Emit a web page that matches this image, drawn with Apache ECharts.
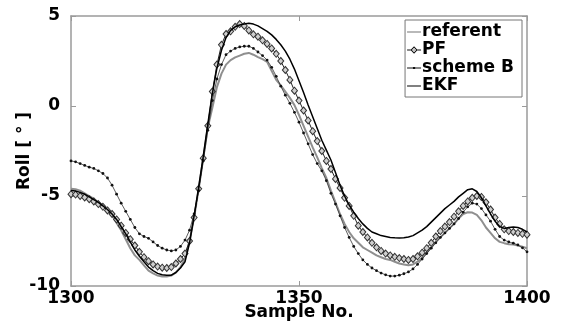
<!DOCTYPE html>
<html>
<head>
<meta charset="utf-8">
<script src="https://cdn.jsdelivr.net/npm/echarts@6/dist/echarts.min.js"></script>
<style>html,body{margin:0;padding:0;background:#fff}#c{width:563px;height:325px}</style>
</head>
<body>
<div id="c"></div>
<script>
const startSample = 1300;
const xTicks = [1300, 1350, 1400];
const yTicks = [-10, -5, 0, 5];
const seriesNames = ['referent', 'PF', 'scheme B', 'EKF'];

const referent = [
-4.60,-4.62,-4.70,-4.85,-5.00,-5.15,-5.35,-5.55,-5.75,-6.05,
-6.50,-6.90,-7.40,-7.90,-8.30,-8.55,-8.85,-9.15,-9.30,-9.42,
-9.47,-9.47,-9.42,-9.25,-8.95,-8.45,-7.50,-6.20,-4.60,-2.90,
-1.20,-0.10,1.05,1.80,2.30,2.55,2.70,2.80,2.90,2.95,
2.85,2.72,2.60,2.45,1.95,1.45,1.15,0.80,0.45,0.05,
-0.50,-1.10,-1.70,-2.30,-2.85,-3.45,-4.00,-4.70,-5.35,-6.00,
-6.55,-7.00,-7.35,-7.60,-7.85,-8.00,-8.15,-8.30,-8.40,-8.50,
-8.55,-8.65,-8.75,-8.80,-8.85,-8.80,-8.65,-8.45,-8.15,-7.85,
-7.55,-7.30,-7.05,-6.80,-6.55,-6.25,-6.00,-5.90,-5.92,-6.05,
-6.35,-6.75,-7.05,-7.35,-7.55,-7.62,-7.68,-7.70,-7.75,-7.82,
-7.90];

const pf = [
-4.90,-4.92,-5.00,-5.08,-5.18,-5.30,-5.45,-5.60,-5.80,-6.00,
-6.30,-6.65,-7.05,-7.40,-7.75,-8.10,-8.40,-8.62,-8.80,-8.92,
-8.98,-9.00,-8.95,-8.75,-8.50,-8.20,-7.50,-6.20,-4.60,-2.90,
-1.10,0.80,2.30,3.40,4.00,4.15,4.40,4.55,4.45,4.20,
3.98,3.85,3.65,3.45,3.20,2.90,2.50,2.00,1.45,0.85,
0.30,-0.25,-0.80,-1.40,-1.95,-2.50,-3.05,-3.50,-4.05,-4.55,
-5.10,-5.55,-6.10,-6.65,-7.00,-7.30,-7.60,-7.85,-8.05,-8.20,
-8.30,-8.38,-8.45,-8.50,-8.55,-8.50,-8.35,-8.15,-7.90,-7.60,
-7.25,-6.95,-6.70,-6.45,-6.15,-5.85,-5.55,-5.30,-5.10,-5.00,
-5.05,-5.35,-5.75,-6.20,-6.55,-6.85,-6.95,-7.00,-7.05,-7.10,
-7.15];

const schemeB = [
-3.05,-3.10,-3.20,-3.30,-3.40,-3.47,-3.60,-3.75,-4.00,-4.40,
-4.90,-5.40,-5.85,-6.30,-6.75,-7.10,-7.25,-7.35,-7.55,-7.75,
-7.90,-8.00,-8.05,-8.00,-7.80,-7.45,-6.90,-6.00,-4.70,-3.05,
-1.35,0.30,1.50,2.30,2.85,3.05,3.20,3.28,3.32,3.32,
3.20,3.00,2.80,2.55,2.15,1.65,1.10,0.60,0.15,-0.35,
-0.90,-1.50,-2.10,-2.70,-3.20,-3.60,-4.15,-4.85,-5.45,-6.10,
-6.75,-7.30,-7.80,-8.20,-8.55,-8.80,-9.00,-9.15,-9.28,-9.38,
-9.45,-9.45,-9.40,-9.32,-9.22,-9.05,-8.80,-8.50,-8.20,-7.90,
-7.60,-7.30,-7.05,-6.80,-6.55,-6.25,-5.90,-5.60,-5.40,-5.45,
-5.70,-6.05,-6.40,-6.85,-7.25,-7.45,-7.55,-7.62,-7.72,-7.88,
-8.10];

const ekf = [
-4.70,-4.72,-4.80,-4.90,-5.05,-5.20,-5.35,-5.55,-5.75,-6.00,
-6.30,-6.70,-7.10,-7.55,-8.00,-8.35,-8.65,-8.95,-9.15,-9.30,
-9.38,-9.40,-9.40,-9.25,-9.00,-8.65,-7.60,-6.10,-4.50,-2.80,
-1.00,0.70,2.10,3.10,3.80,4.20,4.40,4.50,4.55,4.60,
4.55,4.45,4.30,4.15,3.95,3.70,3.40,3.05,2.60,2.05,
1.40,0.75,0.05,-0.60,-1.25,-1.90,-2.45,-3.00,-3.70,-4.40,
-5.00,-5.50,-5.90,-6.25,-6.55,-6.80,-7.00,-7.10,-7.20,-7.25,
-7.30,-7.32,-7.33,-7.32,-7.28,-7.20,-7.05,-6.90,-6.70,-6.45,
-6.20,-5.95,-5.70,-5.50,-5.30,-5.05,-4.85,-4.65,-4.60,-4.75,
-5.10,-5.55,-6.00,-6.40,-6.70,-6.80,-6.75,-6.72,-6.75,-6.85,
-7.00];

function pairs(arr){ return arr.map((v,i)=>[startSample+i, v]); }

const FONT = '"DejaVu Sans", Verdana, sans-serif';
const chart = echarts.init(document.getElementById('c'), null, {renderer:'canvas'});
const frameColor = '#9a9a9a';
const axisCommon = {
  type:'value', splitLine:{show:false},
  axisLine:{show:true, onZero:false, lineStyle:{color:frameColor, width:1.5}},
  axisTick:{show:true, inside:true, length:5, lineStyle:{color:frameColor}}
};
const labelStyle = {fontFamily:FONT, fontWeight:'bold', fontSize:17, color:'#000'};

const iconLine = 'path://M0,4.4 H14 V5.6 H0 Z';
const iconLineThin = 'path://M0,4.5 H14 V5.5 H0 Z';
const iconPF = 'path://M0,4.5 H3.6 V5.5 H0 Z M10.4,4.5 H14 V5.5 H10.4 Z M7,1.2 L10.6,5 L7,8.8 L3.4,5 Z M7,2.8 L4.9,5 L7,7.2 L9.1,5 Z M6.5,4.5 H7.5 V5.5 H6.5 Z';
const iconB = 'path://M0,4.55 H14 V5.45 H0 Z M5.9,3.9 H8.1 V6.1 H5.9 Z';

chart.setOption({
  animation:false,
  backgroundColor:'#fff',
  grid:{left:71, right:36, top:16, bottom:39, outerBoundsMode:'none', containLabel:false},
  legend:{
    orient:'vertical', right:41, top:20,
    data:[
      {name:'referent', icon:iconLine, itemStyle:{color:'#8a8a8a', borderWidth:0}},
      {name:'PF', icon:iconPF, itemStyle:{color:'#111', borderWidth:0}},
      {name:'scheme B', icon:iconB, itemStyle:{color:'#111', borderWidth:0}},
      {name:'EKF', icon:iconLineThin, itemStyle:{color:'#000', borderWidth:0}}
    ],
    backgroundColor:'#fff', borderColor:'#777', borderWidth:1, borderRadius:0,
    padding:[3,8,2,2], itemGap:0, itemWidth:14, itemHeight:10,
    textStyle:Object.assign({}, labelStyle, {padding:[0,0,0,-4], lineHeight:18})
  },
  xAxis:[
    Object.assign({}, axisCommon, {
      min:1300, max:1400, interval:50, position:'bottom',
      name:'Sample No.', nameLocation:'middle', nameGap:18, nameMoveOverlap:false,
      nameTextStyle:labelStyle,
      axisLabel:Object.assign({}, labelStyle, {margin:4,
        formatter:(v)=>xTicks.includes(v)?String(v):''})
    }),
    Object.assign({}, axisCommon, {min:1300, max:1400, interval:50, position:'top', axisLabel:{show:false}})
  ],
  yAxis:[
    Object.assign({}, axisCommon, {
      min:-10, max:5, interval:5, position:'left',
      name:'Roll [ ° ]', nameLocation:'middle', nameGap:38, nameRotate:90, nameMoveOverlap:false,
      nameTextStyle:labelStyle,
      axisLabel:Object.assign({}, labelStyle, {margin:11,
        formatter:(v)=>yTicks.includes(v)?String(v):''})
    }),
    Object.assign({}, axisCommon, {min:-10, max:5, interval:5, position:'right', axisLabel:{show:false}})
  ],
  series:[
    {name:'referent', type:'line', data:pairs(referent), showSymbol:false, symbol:'none',
     lineStyle:{color:'#8f8f8f', width:2}, itemStyle:{color:'#8f8f8f'}, z:2},
    {name:'PF', type:'line', data:pairs(pf), symbol:'diamond', symbolSize:[6,7], showSymbol:true,
     lineStyle:{color:'#222', width:1}, itemStyle:{color:'#cfcfcf', borderColor:'#333', borderWidth:1}, z:3},
    {name:'scheme B', type:'line', data:pairs(schemeB), symbol:'circle', symbolSize:2.8, showSymbol:true,
     lineStyle:{color:'#333', width:0.8}, itemStyle:{color:'#111'}, z:4},
    {name:'EKF', type:'line', data:pairs(ekf), showSymbol:false, symbol:'none',
     lineStyle:{color:'#000', width:1.5}, itemStyle:{color:'#000'}, z:5}
  ]
});
</script>
</body>
</html>
